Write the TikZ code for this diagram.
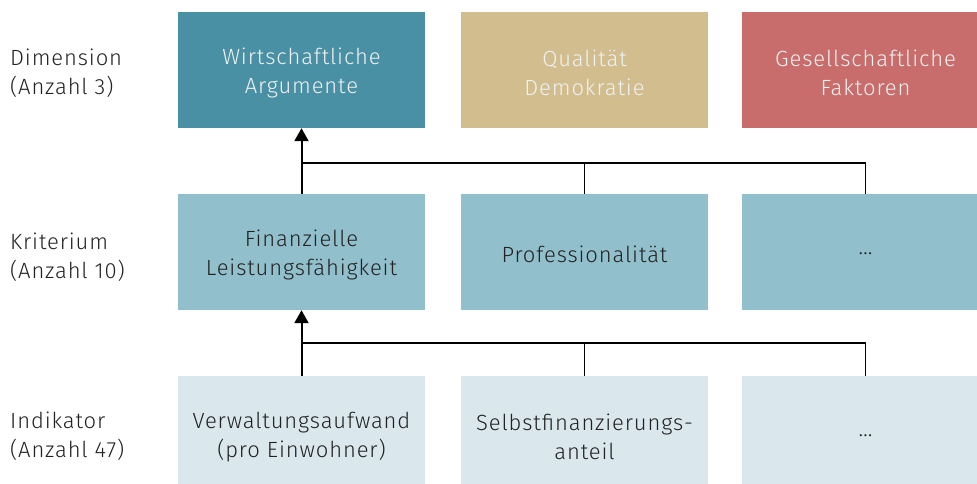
\documentclass[tikz,border=0pt]{standalone}
\usepackage{fontspec}
\setmainfont{Fira Sans Light}[LetterSpace=4]
\usetikzlibrary{arrows.meta}
\definecolor{dimA}{HTML}{4A90A4}
\definecolor{dimB}{HTML}{D2BD8F}
\definecolor{dimC}{HTML}{C96D6C}
\definecolor{krit}{HTML}{91C0CC}
\definecolor{indi}{HTML}{DAE8EE}
\definecolor{darktext}{HTML}{222222}
\definecolor{lighttext}{HTML}{EEF2F2}
\tikzset{
  x=1pt,y=1pt,
  box/.style={minimum width=247pt,minimum height=116pt,inner sep=0pt},
  btext/.style={inner sep=0pt,align=center,font=\fontsize{22}{28.5}\selectfont},
  lighttxt/.style={btext,text=lighttext},
  darktxt/.style={btext,text=darktext},
  rowlabel/.style={anchor=west,align=left,inner sep=0pt,text=darktext,font=\fontsize{22}{28.5}\selectfont},
  conn/.style={line width=1.8pt,draw=black},
  arr/.style={line width=2pt,draw=black,-{Triangle[width=14pt,length=13pt]}}
}
\begin{document}
\begin{tikzpicture}
\useasboundingbox (0,0) rectangle (977,484);
\clip (0,0) rectangle (977,484);
% top row
\node[box,fill=dimA] (d1) at (301.5,414) {};
\node[box,fill=dimB] (d2) at (584.5,414) {};
\node[box,fill=dimC] (d3) at (865.5,414) {};
\node[lighttxt] (t1) at ([yshift=-3pt]d1.center) {Wirtschaftliche\\Argumente};
\node[lighttxt] (t2) at ([yshift=-3pt]d2.center) {Qualität\\Demokratie};
\node[lighttxt] (t3) at ([yshift=-3pt]d3.center) {Gesellschaftliche\\Faktoren};
% middle row
\node[box,fill=krit] (k1) at (301.5,232) {};
\node[box,fill=krit] (k2) at (584.5,232) {};
\node[box,fill=krit] (k3) at (865.5,232) {};
\node[darktxt] (tk1) at ([yshift=-3pt]k1.center) {Finanzielle\\Leistungsfähigkeit};
\node[darktxt] (tk2) at ([yshift=-2pt]k2.center) {Professionalität};
\node[darktxt] (tk3) at ([yshift=-2pt]k3.center) {\ldots};
% bottom row
\node[box,fill=indi] (i1) at (301.5,50) {};
\node[box,fill=indi] (i2) at (584.5,50) {};
\node[box,fill=indi] (i3) at (865.5,50) {};
\node[darktxt] (ti1) at ([yshift=-3pt]i1.center) {Verwaltungsaufwand\\(pro Einwohner)};
\node[darktxt] (ti2) at ([yshift=-3pt]i2.center) {Selbstfinanzierungs-\\anteil};
\node[darktxt] (ti3) at ([yshift=-2pt]i3.center) {\ldots};
% row labels
\node[rowlabel] (l1) at (10,411) {Dimension\\(Anzahl 3)};
\node[rowlabel] (l2) at (10,227) {Kriterium\\(Anzahl 10)};
\node[rowlabel] (l3) at (10,48) {Indikator\\(Anzahl 47)};
% connectors
\coordinate (j1) at (301.5,321);
\coordinate (j2) at (301.5,141);
\draw[arr] (k1.north) -- (d1.south);
\draw[conn] (j1) -| (k2.north);
\draw[conn] (j1) -| (k3.north);
\draw[arr] (i1.north) -- (k1.south);
\draw[conn] (j2) -| (i2.north);
\draw[conn] (j2) -| (i3.north);
\end{tikzpicture}
\end{document}
